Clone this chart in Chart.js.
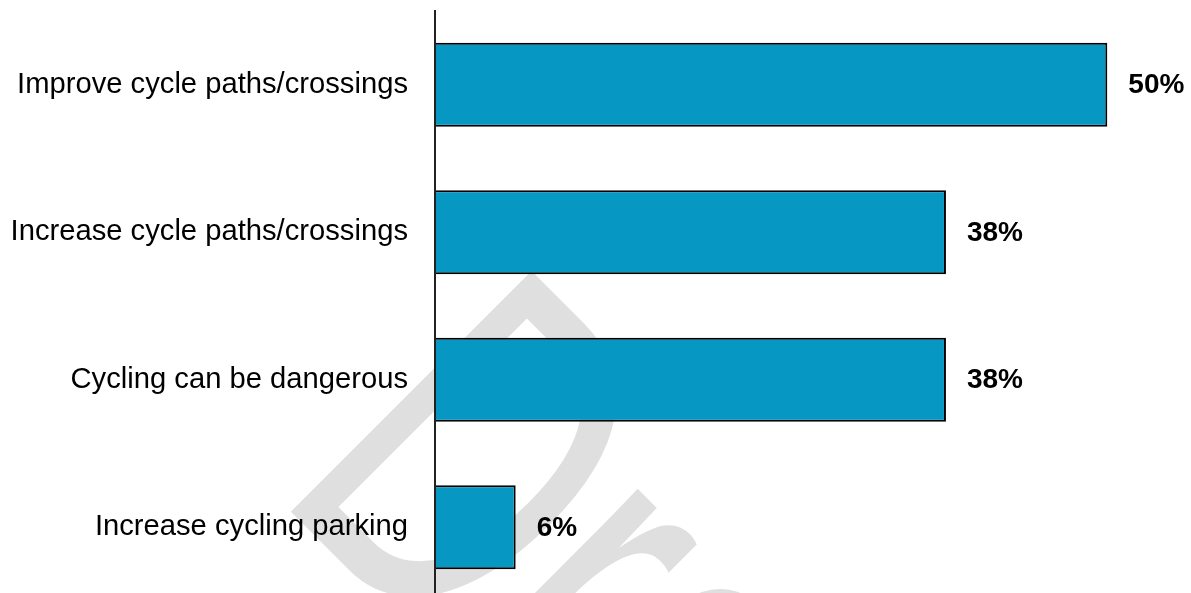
<!DOCTYPE html>
<html>
<head>
<meta charset="utf-8">
<title>Cycling suggestions</title>
<script src="https://cdn.jsdelivr.net/npm/chart.js@4.4.1/dist/chart.umd.min.js"></script>
<style>
    html, body {
        margin: 0;
        padding: 0;
        background: #ffffff;
        overflow: hidden;
    }
    #chart-wrap {
        position: relative;
        width: 1191px;
        height: 601px;
    }
</style>
</head>
<body>
<div id="chart-wrap">
    <canvas id="cyclingChart"></canvas>
</div>
<script>
// Categories (top to bottom) and the share of responses for each
const categories = [
    'Improve cycle paths/crossings',
    'Increase cycle paths/crossings',
    'Cycling can be dangerous',
    'Increase cycling parking'
];
const percentages = [50, 38, 38, 6];

// Text stamped diagonally behind the chart
const watermarkText = 'Draft';

const FONT = '"Liberation Sans", Arial, Helvetica, sans-serif';

/**
 * White background plus the diagonal watermark, painted before anything else
 */
const watermarkPlugin = {
    id: 'watermark',
    beforeDraw: function(chart) {
        const ctx = chart.ctx;
        ctx.save();
        ctx.fillStyle = '#ffffff';
        ctx.fillRect(0, 0, chart.width, chart.height);

        ctx.translate(272, 493);
        ctx.rotate(Math.PI / 4);
        ctx.scale(0.655, 1);
        ctx.font = '495px ' + FONT;
        ctx.fillStyle = '#dfdfdf';
        ctx.textAlign = 'left';
        ctx.textBaseline = 'alphabetic';
        ctx.fillText(watermarkText, 0, 0);
        ctx.restore();
    }
};

/**
 * Bold value labels to the right of each bar
 */
const valueLabelPlugin = {
    id: 'valueLabels',
    afterDatasetsDraw: function(chart) {
        const ctx = chart.ctx;
        const meta = chart.getDatasetMeta(0);
        ctx.save();
        ctx.font = 'bold 28px ' + FONT;
        ctx.fillStyle = '#000000';
        ctx.textAlign = 'left';
        ctx.textBaseline = 'middle';
        meta.data.forEach(function(bar, i) {
            ctx.fillText(percentages[i] + '%', bar.x + 21, bar.y + 1);
        });
        ctx.restore();
    }
};

const ctx = document.getElementById('cyclingChart').getContext('2d');

new Chart(ctx, {
    type: 'bar',
    data: {
        labels: categories,
        datasets: [{
            data: percentages,
            backgroundColor: '#0697c3',
            borderColor: '#000000',
            borderWidth: 2,
            barPercentage: 0.57,
            categoryPercentage: 1.0
        }]
    },
    options: {
        indexAxis: 'y',
        responsive: true,
        maintainAspectRatio: false,
        animation: false,
        layout: {
            padding: { top: 11, right: 3, bottom: 0, left: 0 }
        },
        scales: {
            x: {
                display: false,
                min: 0,
                max: 56
            },
            y: {
                grid: { display: false, drawTicks: false },
                border: { display: true, color: '#222222', width: 2, z: 1 },
                ticks: {
                    padding: 27,
                    color: '#000000',
                    font: { family: FONT, size: 29.2 }
                },
                afterFit: function(scale) {
                    // fixed axis width, and no extra room reserved for the end labels
                    scale.width = 435;
                    scale.paddingTop = 0;
                    scale.paddingBottom = 0;
                }
            }
        },
        plugins: {
            legend: { display: false },
            tooltip: { enabled: false }
        }
    },
    plugins: [watermarkPlugin, valueLabelPlugin]
});
</script>
</body>
</html>
